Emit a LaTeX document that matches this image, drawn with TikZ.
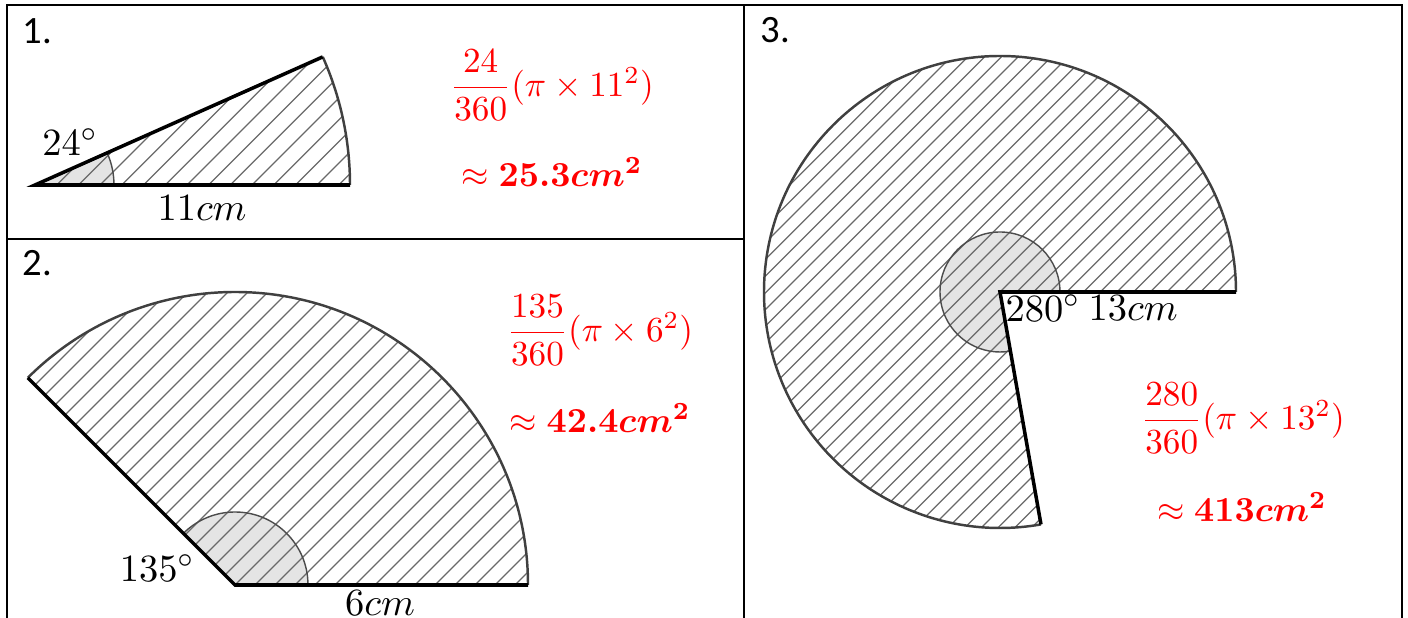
\documentclass[tikz,border=0pt]{standalone}
\usepackage{amsmath,amssymb}
\usepackage{fontspec}
\newfontfamily\numfont{Carlito}
\usepackage{tikz}
\usetikzlibrary{calc}
\definecolor{HatchGray}{RGB}{105,105,105}
\definecolor{MarkGray}{RGB}{228,228,228}
\definecolor{AnsRed}{RGB}{255,0,0}
\tikzset{
	frame/.style={draw=black,line width=0.8pt},
	side/.style={draw=black,line width=1pt,line join=miter},
	rim/.style={draw=black!75,line width=0.7pt},
	hatch/.style={draw=HatchGray,line width=0.35pt},
	angmark/.style={fill=MarkGray},
	angarc/.style={draw=black!70,line width=0.4pt},
	num/.style={font=\numfont\fontsize{11}{13}\selectfont,anchor=west,inner sep=0pt},
	geo/.style={font=\fontsize{11}{13}\selectfont,inner sep=0pt},
	ans/.style={text=AnsRed,inner sep=0pt},
}

\begin{document}
\begin{tikzpicture}[x=0.01cm,y=0.01cm]
	\useasboundingbox (0,0) rectangle (1408,618);
	% table lines
	\draw[frame] (7,0) -- (7,613) -- (1402,613) -- (1402,0);
	\draw[frame] (744,613) -- (744,0);
	\draw[frame] (7,379) -- (744,379);
	% the three sectors: number/centre/radius/angle/mark radius/hatch step
	\foreach \n/\cx/\cy/\r/\a/\m/\d in {1/35/433/315/24/79/21.7,2/235/33/293/135/73/20,3/1000/326/236/280/60/16.7}{
		\coordinate (O\n) at (\cx,\cy);
		\begin{scope}
			\clip (O\n) -- ++(0:\r) arc[start angle=0,end angle=\a,radius=\r] -- cycle;
			\fill[angmark] (O\n) -- ++(0:\m) arc[start angle=0,end angle=\a,radius=\m] -- cycle;
			\foreach \k in {-30,...,30}
			\draw[hatch] ($(O\n)+(\k*\d,0)+(-700,-700)$) -- ++(1400,1400);
		\end{scope}
		\draw[angarc] ($(O\n)+(\m,0)$) arc[start angle=0,end angle=\a,radius=\m];
		\draw[rim] ($(O\n)+(\r,0)$) arc[start angle=0,end angle=\a,radius=\r];
		\draw[side] ($(O\n)+(\a:\r)$) -- (O\n) -- ($(O\n)+(\r,0)$);
	}
	% numbers
	\node[num] (n1) at (22,587) {1.};
	\node[num] (n2) at (22,355) {2.};
	\node[num] (n3) at (760,588) {3.};
	% sector labels
	\node[geo] (ang1) at (70,476) {$24^\circ$};
	\node[geo] (len1) at (202,410) {$11cm$};
	\node[geo] (ang2) at (157,50) {$135^\circ$};
	\node[geo] (len2) at (380,15) {$6cm$};
	\node[geo,anchor=west] (ang3) at (1005,310) {$280^\circ$};
	\node[geo,anchor=west] (len3) at (1088,310) {$13cm$};
	% working
	\node[ans] (f1) at (552,533) {$\dfrac{24}{360}(\pi\times 11^2)$};
	\node[ans] (r1) at (552,446) {$\approx \boldsymbol{25.3cm^2}$};
	\node[ans] (f2) at (600,288) {$\dfrac{135}{360}(\pi\times 6^2)$};
	\node[ans] (r2) at (600,200) {$\approx \boldsymbol{42.4cm^2}$};
	\node[ans] (f3) at (1243,200) {$\dfrac{280}{360}(\pi\times 13^2)$};
	\node[ans] (r3) at (1242,111) {$\approx \boldsymbol{413cm^2}$};
\end{tikzpicture}
\end{document}
